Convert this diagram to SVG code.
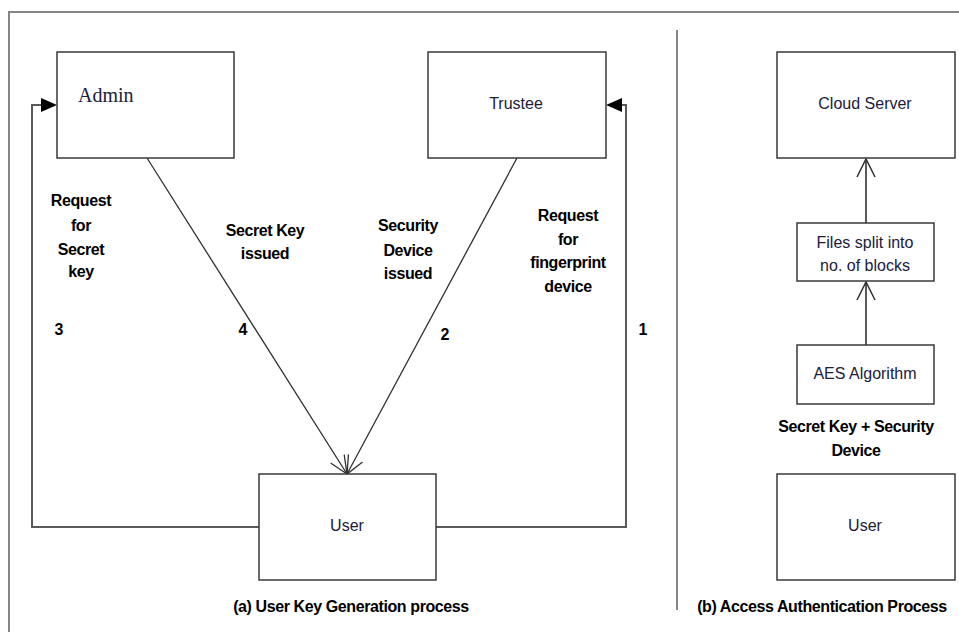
<svg xmlns="http://www.w3.org/2000/svg" width="959" height="632" viewBox="0 0 959 632">
<style>
.box{fill:#fff;stroke:#3a3a3a;stroke-width:1.5}
.frame{fill:none;stroke:#858585;stroke-width:2}
.conn{fill:none;stroke:#5a5a5a;stroke-width:2}
.diag{fill:none;stroke:#303030;stroke-width:1.3}
.head{fill:#000}
.chev{fill:none;stroke:#303030;stroke-width:1.5}
.lbl{font-family:"Liberation Sans",Arial,sans-serif;font-size:16px;fill:#20203a;text-anchor:middle}
.b{font-family:"Liberation Sans",Arial,sans-serif;font-size:16px;font-weight:bold;fill:#000;text-anchor:middle;letter-spacing:-0.4px}
.n{font-family:"Liberation Sans",Arial,sans-serif;font-size:16px;font-weight:bold;fill:#000;text-anchor:middle}
</style>
<defs>
<marker id="open" markerWidth="20" markerHeight="20" refX="18" refY="10" orient="auto" markerUnits="userSpaceOnUse">
<path d="M0,2 L18,10 L0,18" fill="none" stroke="#303030" stroke-width="1.3"/>
</marker>
</defs>
<rect width="959" height="632" fill="#fff"/>
<g id="frame">
<path class="frame" d="M9,632 V12 H959"/>
<line x1="677" y1="30" x2="677" y2="610" stroke="#858585" stroke-width="2"/>
</g>
<g id="connectors">
<path class="conn" d="M259,527 H32 V105 H42"/>
<polygon class="head" points="57,105 41,98 41,112"/>
<path class="conn" d="M436,527 H626 V105 H621"/>
<polygon class="head" points="606,105 622,98 622,112"/>
<line class="diag" x1="147" y1="158" x2="347" y2="474" marker-end="url(#open)"/>
<line class="diag" x1="517" y1="158" x2="347" y2="474" marker-end="url(#open)"/>
<line class="conn" x1="866" y1="223" x2="866" y2="159"/>
<path class="chev" d="M857,177 L866,159 L875,177"/>
<line class="conn" x1="866" y1="345" x2="866" y2="282"/>
<path class="chev" d="M857,300 L866,282 L875,300"/>
</g>
<g id="admin">
<rect class="box" x="57" y="52" width="177" height="106"/>
<text x="78" y="102" font-family="'Liberation Serif','Times New Roman',serif" font-size="20" fill="#20203a">Admin</text>
</g>
<g id="trustee">
<rect class="box" x="428" y="52" width="178" height="106"/>
<text class="lbl" x="516" y="109">Trustee</text>
</g>
<g id="user-a">
<rect class="box" x="259" y="474" width="177" height="106"/>
<text class="lbl" x="347" y="531">User</text>
</g>
<g id="cloud-server">
<rect class="box" x="777" y="52" width="178" height="106"/>
<text class="lbl" x="865" y="109">Cloud Server</text>
</g>
<g id="files-split">
<rect class="box" x="797" y="223" width="137" height="58"/>
<text class="lbl" x="865" y="248">Files split into</text>
<text class="lbl" x="865" y="271">no. of blocks</text>
</g>
<g id="aes">
<rect class="box" x="797" y="345" width="137" height="59"/>
<text class="lbl" x="865" y="379">AES Algorithm</text>
</g>
<g id="user-b">
<rect class="box" x="777" y="474" width="178" height="106"/>
<text class="lbl" x="865" y="531">User</text>
</g>
<g id="labels">
<text class="b" x="81" y="206">Request</text>
<text class="b" x="81" y="231">for</text>
<text class="b" x="81" y="255">Secret</text>
<text class="b" x="81" y="277">key</text>
<text class="b" x="265" y="236">Secret Key</text>
<text class="b" x="265" y="259">issued</text>
<text class="b" x="408" y="231">Security</text>
<text class="b" x="408" y="256">Device</text>
<text class="b" x="408" y="279">issued</text>
<text class="b" x="568" y="221">Request</text>
<text class="b" x="568" y="245">for</text>
<text class="b" x="568" y="268">fingerprint</text>
<text class="b" x="568" y="292">device</text>
<text class="n" x="59" y="335">3</text>
<text class="n" x="243" y="335">4</text>
<text class="n" x="445" y="340">2</text>
<text class="n" x="643" y="335">1</text>
<text class="b" x="856" y="432">Secret Key + Security</text>
<text class="b" x="856" y="456">Device</text>
<text class="b" x="351" y="612">(a) User Key Generation process</text>
<text class="b" x="822" y="612">(b) Access Authentication Process</text>
</g>
</svg>
